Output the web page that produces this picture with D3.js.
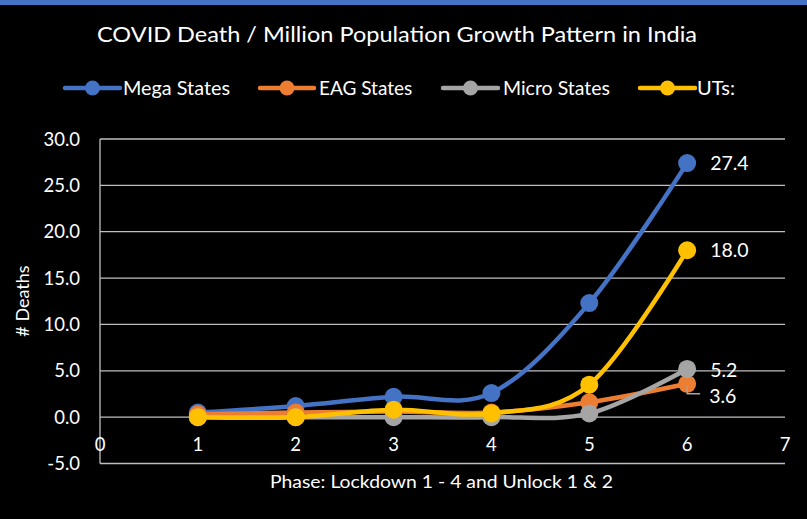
<!DOCTYPE html>
<html>
<head>
<meta charset="utf-8">
<script src="https://cdn.jsdelivr.net/npm/d3@7"></script>
<style>
  html, body { margin: 0; padding: 0; background: #000; }
  svg { display: block; }
  text { font-family: Lato, "Open Sans", sans-serif; fill: #fff; }
</style>
</head>
<body>
<svg id="chart" width="807" height="519"></svg>
<script>
// Phases of lockdown / unlock
const phases = [1, 2, 3, 4, 5, 6];

// COVID deaths per million population, by group of states
const megaStates  = [0.5, 1.2, 2.2, 2.6, 12.3, 27.4];
const eagStates   = [0.3, 0.5, 0.6, 0.5, 1.6, 3.6];
const microStates = [0.0, 0.0, 0.0, 0.0, 0.4, 5.2];
const uts         = [0.0, 0.0, 0.8, 0.4, 3.5, 18.0];

const seriesNames = ["Mega States", "EAG States", "Micro States", "UTs:"];
const seriesColors = ["#4472C4", "#ED7D31", "#A5A5A5", "#FFC000"];
const seriesValues = [megaStates, eagStates, microStates, uts];

const xTicks = [0, 1, 2, 3, 4, 5, 6, 7];
const yTicks = [-5, 0, 5, 10, 15, 20, 25, 30];

const svg = d3.select("#chart");
const W = 807, H = 519;

// Squeeze or stretch a text to a given width
function fitText(sel, width) {
  const len = sel.node().getComputedTextLength();
  if (Math.abs(len - width) > 1) {
    sel.attr("textLength", width).attr("lengthAdjust", "spacingAndGlyphs");
  }
  return sel;
}

svg.append("rect").attr("width", W).attr("height", H).attr("fill", "#000");
svg.append("rect").attr("width", W).attr("height", 5).attr("fill", "#4472C4");

const x = d3.scaleLinear().domain([0, 7]).range([100, 785]);
const y = d3.scaleLinear().domain([-5, 30]).range([463.5, 139]);

// Title
fitText(svg.append("text")
  .attr("x", 97).attr("y", 42)
  .attr("font-size", 21)
  .text("COVID Death / Million Population Growth Pattern in India"), 600);

// Legend
const legendPos = [
  { line: [65, 120], text: 123, w: 107 },
  { line: [260, 314], text: 319, w: 94 },
  { line: [443, 498], text: 503, w: 107 },
  { line: [640, 695], text: 697, w: 38 }
];
seriesNames.forEach((name, i) => {
  const p = legendPos[i];
  const g = svg.append("g");
  g.append("line")
    .attr("x1", p.line[0]).attr("x2", p.line[1])
    .attr("y1", 88).attr("y2", 88)
    .attr("stroke", seriesColors[i]).attr("stroke-width", 4.5)
    .attr("stroke-linecap", "round");
  g.append("circle")
    .attr("cx", (p.line[0] + p.line[1]) / 2).attr("cy", 88).attr("r", 7.5)
    .attr("fill", seriesColors[i]);
  fitText(g.append("text")
    .attr("x", p.text).attr("y", 95)
    .attr("font-size", 19)
    .text(name), p.w);
});

// Horizontal gridlines (the -5 line acts as the bottom axis)
svg.append("g")
  .selectAll("line")
  .data(yTicks)
  .join("line")
  .attr("x1", x(0)).attr("x2", x(7))
  .attr("y1", d => y(d)).attr("y2", d => y(d))
  .attr("stroke", "#BFBFBF").attr("stroke-width", 1.3);

// Vertical axis line
svg.append("line")
  .attr("x1", x(0)).attr("x2", x(0))
  .attr("y1", y(30)).attr("y2", y(-5))
  .attr("stroke", "#BFBFBF").attr("stroke-width", 1.3);

// Y tick labels
svg.append("g")
  .selectAll("text")
  .data(yTicks)
  .join("text")
  .attr("x", 80).attr("y", d => y(d) + 6.5)
  .attr("text-anchor", "end")
  .attr("font-size", 18.5)
  .text(d => d.toFixed(1));

// X tick labels, placed below the zero line
svg.append("g")
  .selectAll("text")
  .data(xTicks)
  .join("text")
  .attr("x", d => x(d)).attr("y", 451)
  .attr("text-anchor", "middle")
  .attr("font-size", 18.5)
  .text(d => d);

// Axis titles
svg.append("text")
  .attr("transform", "translate(29,301) rotate(-90)")
  .attr("text-anchor", "middle")
  .attr("font-size", 18)
  .text("# Deaths");

fitText(svg.append("text")
  .attr("x", 270).attr("y", 488)
  .attr("font-size", 18)
  .text("Phase: Lockdown 1 - 4 and Unlock 1 & 2"), 343);

// Smoothed series lines with markers
const line = d3.line()
  .x((d, i) => x(phases[i]))
  .y(d => y(d))
  .curve(d3.curveCardinal.tension(0));

seriesValues.forEach((vals, i) => {
  const g = svg.append("g");
  g.append("path")
    .datum(vals)
    .attr("d", line)
    .attr("fill", "none")
    .attr("stroke", seriesColors[i])
    .attr("stroke-width", 4.5)
    .attr("stroke-linecap", "round");
  g.selectAll("circle")
    .data(vals)
    .join("circle")
    .attr("cx", (d, j) => x(phases[j]))
    .attr("cy", d => y(d))
    .attr("r", 9)
    .attr("fill", seriesColors[i]);
});

// End-of-series value labels
const last = phases.length - 1;
const labelShift = [[0, 0], [-1, 12], [0, 1.5], [0, 0]];
seriesValues.forEach((vals, i) => {
  const v = vals[last];
  const px = x(phases[last]);
  const py = y(v) + labelShift[i][1];
  svg.append("text")
    .attr("x", px + 23 + labelShift[i][0]).attr("y", py + 7)
    .attr("font-size", 19.5)
    .text(v.toFixed(1));
});

// Leader line for the shifted EAG label
{
  const px = x(phases[last]);
  const py = y(eagStates[last]);
  svg.append("polyline")
    .attr("points", `${px},${py + 2} ${px},${py + 10} ${px + 13},${py + 10}`)
    .attr("fill", "none")
    .attr("stroke", "#A5A5A5")
    .attr("stroke-width", 1.3);
}
</script>
</body>
</html>
